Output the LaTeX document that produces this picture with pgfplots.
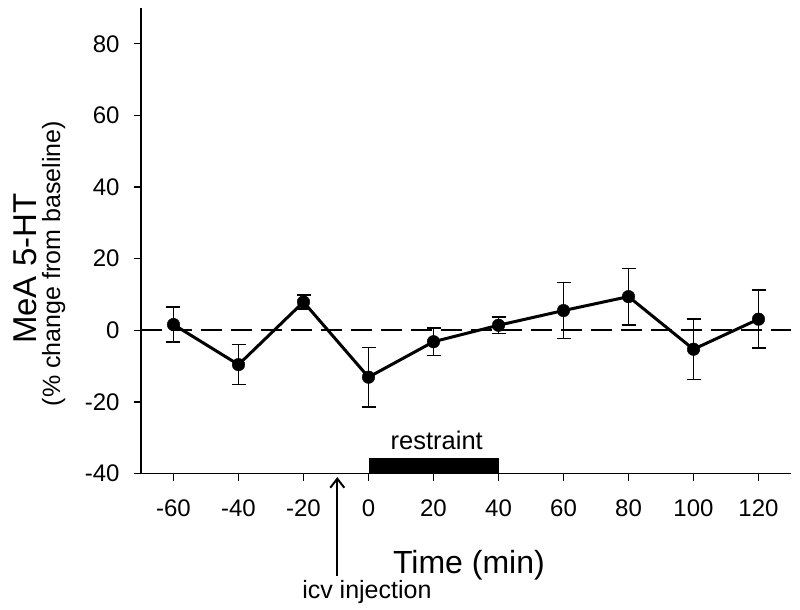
\documentclass[border=0pt]{standalone}
\usepackage{fontspec}
\setmainfont{Liberation Sans}
\usepackage{pgfplots}
\pgfplotsset{compat=1.18}
\usetikzlibrary{arrows.meta}

\begin{document}
\begin{tikzpicture}
\begin{axis}[
  scale only axis, width=650pt, height=465.5pt,
  xmin=-70, xmax=130, ymin=-40, ymax=90,
  axis lines=left, axis line style={-, line width=1.3pt},
  xtick={-60,-40,...,120}, ytick={-40,-20,...,80},
  tick align=outside, major tick length=7pt,
  tick style={line width=1.3pt, black},
  /pgf/number format/assume math mode=true,
  ticklabel style={font=\fontsize{24}{28}\selectfont},
  yticklabel style={xshift=-11pt},
  xticklabel style={yshift=-16pt},
  clip=false,
]
\addplot[black, line width=2.2pt, dash pattern=on 21pt off 9pt] coordinates {(-70,0) (130,0)};
\fill[black] (axis cs:0,-40) rectangle (axis cs:40,-35.7);
\addplot[black, line width=3pt, mark=*, mark size=6.3pt,
  mark options={solid, fill=black, line width=0.4pt},
  error bars/.cd, y dir=both, y explicit,
  error bar style={line width=1.5pt},
  error mark options={line width=1.5pt, mark size=7pt, rotate=90}]
  coordinates {
  (-60,1.6) +- (0,4.9)
  (-40,-9.6) +- (0,5.6)
  (-20,7.9) +- (0,2.0)
  (0,-13.1) +- (0,8.3)
  (20,-3.2) +- (0,3.8)
  (40,1.4) +- (0,2.3)
  (60,5.5) +- (0,7.8)
  (80,9.4) +- (0,7.9)
  (100,-5.3) +- (0,8.5)
  (120,3.1) +- (0,8.1)
};
\node[anchor=base, font=\fontsize{25.5}{30}\selectfont] at (axis cs:21,-33.2) {restraint};
\draw[line width=2pt, -{Straight Barb[length=9pt,width=14pt]}] (axis cs:-9.6,-68.6) -- (axis cs:-9.6,-41);
\node[anchor=base, font=\fontsize{25}{30}\selectfont] at (axis cs:-0.5,-75) {icv injection};
\node[anchor=base, font=\fontsize{32}{38}\selectfont] at (axis cs:30.9,-68) {Time (min)};
\node[anchor=base, rotate=90, font=\fontsize{33}{38}\selectfont] at (axis cs:-102.0,17.2) {MeA 5-HT};
\node[anchor=base, rotate=90, font=\fontsize{25}{30}\selectfont] at (axis cs:-94.9,18.6) {(\% change from baseline)};
\end{axis}
\pgfresetboundingbox
\path[use as bounding box] ([shift={(-141pt,-136.3pt)}]current axis.south west) rectangle ([shift={(9pt,8pt)}]current axis.north east);
\end{tikzpicture}
\end{document}
